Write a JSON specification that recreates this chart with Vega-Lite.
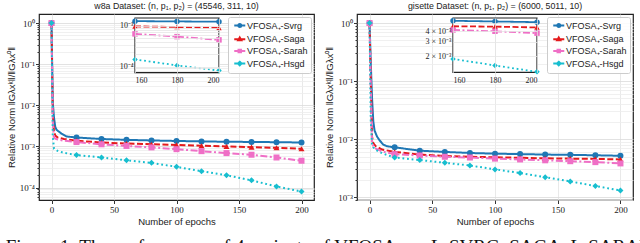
{
  "$schema": "https://vega.github.io/schema/vega-lite/v6.json",
  "padding": {"left": 5, "top": 1, "right": 0, "bottom": 0},
  "spacing": 9,
  "title": {"text": "Figure 1: The performance of 4 variants of VFOSA₊ — L-SVRG, SAGA, L-SARAH and", "orient": "bottom", "anchor": "start", "font": "Liberation Serif", "fontSize": 19, "fontWeight": "normal", "color": "#111", "offset": 11.5, "baseline": "top", "frame": "bounds"},
  "datasets": {
    "runs": [
      {"ds":"w8a","series":"Svrg","epoch":0,"value":1},{"ds":"w8a","series":"Svrg","epoch":1,"value":0.012},{"ds":"w8a","series":"Svrg","epoch":2,"value":0.005},{"ds":"w8a","series":"Svrg","epoch":3,"value":0.003},{"ds":"w8a","series":"Svrg","epoch":4,"value":0.00255},{"ds":"w8a","series":"Svrg","epoch":8,"value":0.00205},{"ds":"w8a","series":"Svrg","epoch":12,"value":0.00175},{"ds":"w8a","series":"Svrg","epoch":20,"value":0.00165},{"ds":"w8a","series":"Svrg","epoch":40,"value":0.00152},{"ds":"w8a","series":"Svrg","epoch":60,"value":0.00145},{"ds":"w8a","series":"Svrg","epoch":80,"value":0.0014},{"ds":"w8a","series":"Svrg","epoch":100,"value":0.00136},{"ds":"w8a","series":"Svrg","epoch":120,"value":0.00133},{"ds":"w8a","series":"Svrg","epoch":140,"value":0.0013},{"ds":"w8a","series":"Svrg","epoch":160,"value":0.00129},{"ds":"w8a","series":"Svrg","epoch":180,"value":0.00127},{"ds":"w8a","series":"Svrg","epoch":200,"value":0.00125},
      {"ds":"w8a","series":"Saga","epoch":0,"value":1},{"ds":"w8a","series":"Saga","epoch":1,"value":0.006},{"ds":"w8a","series":"Saga","epoch":2,"value":0.0023},{"ds":"w8a","series":"Saga","epoch":3,"value":0.00185},{"ds":"w8a","series":"Saga","epoch":5,"value":0.00165},{"ds":"w8a","series":"Saga","epoch":10,"value":0.00152},{"ds":"w8a","series":"Saga","epoch":20,"value":0.00138},{"ds":"w8a","series":"Saga","epoch":40,"value":0.00125},{"ds":"w8a","series":"Saga","epoch":60,"value":0.00118},{"ds":"w8a","series":"Saga","epoch":80,"value":0.00113},{"ds":"w8a","series":"Saga","epoch":100,"value":0.00109},{"ds":"w8a","series":"Saga","epoch":120,"value":0.00104},{"ds":"w8a","series":"Saga","epoch":140,"value":0.001},{"ds":"w8a","series":"Saga","epoch":160,"value":0.00096},{"ds":"w8a","series":"Saga","epoch":180,"value":0.00093},{"ds":"w8a","series":"Saga","epoch":200,"value":0.00088},
      {"ds":"w8a","series":"Sarah","epoch":0,"value":1},{"ds":"w8a","series":"Sarah","epoch":1,"value":0.004},{"ds":"w8a","series":"Sarah","epoch":2,"value":0.0017},{"ds":"w8a","series":"Sarah","epoch":3,"value":0.00155},{"ds":"w8a","series":"Sarah","epoch":5,"value":0.00148},{"ds":"w8a","series":"Sarah","epoch":10,"value":0.00138},{"ds":"w8a","series":"Sarah","epoch":20,"value":0.00128},{"ds":"w8a","series":"Sarah","epoch":40,"value":0.00113},{"ds":"w8a","series":"Sarah","epoch":60,"value":0.00103},{"ds":"w8a","series":"Sarah","epoch":80,"value":0.00095},{"ds":"w8a","series":"Sarah","epoch":100,"value":0.00086},{"ds":"w8a","series":"Sarah","epoch":120,"value":0.00077},{"ds":"w8a","series":"Sarah","epoch":140,"value":0.00069},{"ds":"w8a","series":"Sarah","epoch":160,"value":0.00063},{"ds":"w8a","series":"Sarah","epoch":180,"value":0.00054},{"ds":"w8a","series":"Sarah","epoch":200,"value":0.00045},
      {"ds":"w8a","series":"Hsgd","epoch":0,"value":1},{"ds":"w8a","series":"Hsgd","epoch":1,"value":0.0018},{"ds":"w8a","series":"Hsgd","epoch":2,"value":0.00088},{"ds":"w8a","series":"Hsgd","epoch":5,"value":0.00078},{"ds":"w8a","series":"Hsgd","epoch":10,"value":0.0007},{"ds":"w8a","series":"Hsgd","epoch":20,"value":0.00062},{"ds":"w8a","series":"Hsgd","epoch":40,"value":0.00054},{"ds":"w8a","series":"Hsgd","epoch":60,"value":0.00046},{"ds":"w8a","series":"Hsgd","epoch":80,"value":0.0004},{"ds":"w8a","series":"Hsgd","epoch":100,"value":0.00032},{"ds":"w8a","series":"Hsgd","epoch":120,"value":0.00025},{"ds":"w8a","series":"Hsgd","epoch":140,"value":0.0002},{"ds":"w8a","series":"Hsgd","epoch":160,"value":0.00015},{"ds":"w8a","series":"Hsgd","epoch":180,"value":0.000107},{"ds":"w8a","series":"Hsgd","epoch":200,"value":0.00008},
      {"ds":"gisette","series":"Svrg","epoch":0,"value":1},{"ds":"gisette","series":"Svrg","epoch":1,"value":0.2},{"ds":"gisette","series":"Svrg","epoch":2,"value":0.05},{"ds":"gisette","series":"Svrg","epoch":3,"value":0.02},{"ds":"gisette","series":"Svrg","epoch":4,"value":0.014},{"ds":"gisette","series":"Svrg","epoch":6,"value":0.011},{"ds":"gisette","series":"Svrg","epoch":8,"value":0.0095},{"ds":"gisette","series":"Svrg","epoch":11,"value":0.008},{"ds":"gisette","series":"Svrg","epoch":14,"value":0.0075},{"ds":"gisette","series":"Svrg","epoch":20,"value":0.0072},{"ds":"gisette","series":"Svrg","epoch":40,"value":0.0063},{"ds":"gisette","series":"Svrg","epoch":60,"value":0.006},{"ds":"gisette","series":"Svrg","epoch":80,"value":0.00575},{"ds":"gisette","series":"Svrg","epoch":100,"value":0.0056},{"ds":"gisette","series":"Svrg","epoch":120,"value":0.0055},{"ds":"gisette","series":"Svrg","epoch":140,"value":0.0054},{"ds":"gisette","series":"Svrg","epoch":160,"value":0.00535},{"ds":"gisette","series":"Svrg","epoch":180,"value":0.00525},{"ds":"gisette","series":"Svrg","epoch":200,"value":0.00515},
      {"ds":"gisette","series":"Saga","epoch":0,"value":1},{"ds":"gisette","series":"Saga","epoch":1,"value":0.1},{"ds":"gisette","series":"Saga","epoch":2,"value":0.011},{"ds":"gisette","series":"Saga","epoch":3,"value":0.0085},{"ds":"gisette","series":"Saga","epoch":5,"value":0.0075},{"ds":"gisette","series":"Saga","epoch":10,"value":0.0066},{"ds":"gisette","series":"Saga","epoch":20,"value":0.006},{"ds":"gisette","series":"Saga","epoch":40,"value":0.0054},{"ds":"gisette","series":"Saga","epoch":60,"value":0.0051},{"ds":"gisette","series":"Saga","epoch":80,"value":0.00495},{"ds":"gisette","series":"Saga","epoch":100,"value":0.00485},{"ds":"gisette","series":"Saga","epoch":120,"value":0.00475},{"ds":"gisette","series":"Saga","epoch":140,"value":0.00465},{"ds":"gisette","series":"Saga","epoch":160,"value":0.0046},{"ds":"gisette","series":"Saga","epoch":180,"value":0.00455},{"ds":"gisette","series":"Saga","epoch":200,"value":0.00445},
      {"ds":"gisette","series":"Sarah","epoch":0,"value":1},{"ds":"gisette","series":"Sarah","epoch":1,"value":0.08},{"ds":"gisette","series":"Sarah","epoch":2,"value":0.009},{"ds":"gisette","series":"Sarah","epoch":3,"value":0.0075},{"ds":"gisette","series":"Sarah","epoch":5,"value":0.0068},{"ds":"gisette","series":"Sarah","epoch":10,"value":0.0061},{"ds":"gisette","series":"Sarah","epoch":20,"value":0.0055},{"ds":"gisette","series":"Sarah","epoch":40,"value":0.0052},{"ds":"gisette","series":"Sarah","epoch":60,"value":0.00495},{"ds":"gisette","series":"Sarah","epoch":80,"value":0.0048},{"ds":"gisette","series":"Sarah","epoch":100,"value":0.0046},{"ds":"gisette","series":"Sarah","epoch":120,"value":0.00445},{"ds":"gisette","series":"Sarah","epoch":140,"value":0.0043},{"ds":"gisette","series":"Sarah","epoch":160,"value":0.00415},{"ds":"gisette","series":"Sarah","epoch":180,"value":0.004},{"ds":"gisette","series":"Sarah","epoch":200,"value":0.0038},
      {"ds":"gisette","series":"Hsgd","epoch":0,"value":1},{"ds":"gisette","series":"Hsgd","epoch":1,"value":0.02},{"ds":"gisette","series":"Hsgd","epoch":2,"value":0.0082},{"ds":"gisette","series":"Hsgd","epoch":3,"value":0.0072},{"ds":"gisette","series":"Hsgd","epoch":5,"value":0.0065},{"ds":"gisette","series":"Hsgd","epoch":10,"value":0.0057},{"ds":"gisette","series":"Hsgd","epoch":20,"value":0.0048},{"ds":"gisette","series":"Hsgd","epoch":40,"value":0.00435},{"ds":"gisette","series":"Hsgd","epoch":60,"value":0.0039},{"ds":"gisette","series":"Hsgd","epoch":80,"value":0.0035},{"ds":"gisette","series":"Hsgd","epoch":100,"value":0.003},{"ds":"gisette","series":"Hsgd","epoch":120,"value":0.0026},{"ds":"gisette","series":"Hsgd","epoch":140,"value":0.0022},{"ds":"gisette","series":"Hsgd","epoch":160,"value":0.00186},{"ds":"gisette","series":"Hsgd","epoch":180,"value":0.00155},{"ds":"gisette","series":"Hsgd","epoch":200,"value":0.0013}
    ]
  },
  "hconcat": [
    {
      "width": 275, "height": 186,
      "title": {"text": "w8a Dataset: (n, p₁, p₂) = (45546, 311, 10)", "frame": "group"},
      "data": {"name": "runs"},
      "transform": [{"filter": "datum.ds == 'w8a'"}],
      "layer": [
        {"layer": [
          {"mark": {"type": "line", "strokeWidth": 2, "clip": true},
           "encoding": {
             "x": {"field": "epoch", "type": "quantitative", "scale": {"domain": [-10, 210], "nice": false, "zero": false}, "axis": {"orient": "bottom", "values": [0,25,50,75,100,125,150,175,200], "title": "Number of epochs", "tickSize": 3.5, "labelPadding": 2, "titlePadding": 2}},
             "y": {"field": "value", "type": "quantitative", "scale": {"type": "log", "domain": [0.00005, 1.66], "nice": false}, "axis": {"orient": "left", "values": [0.00006,0.00007,0.00008,0.00009,0.0001,0.0002,0.0003,0.0004,0.0005,0.0006,0.0007,0.0008,0.0009,0.001,0.002,0.003,0.004,0.005,0.006,0.007,0.008,0.009,0.01,0.02,0.03,0.04,0.05,0.06,0.07,0.08,0.09,0.1,0.2,0.3,0.4,0.5,0.6,0.7,0.8,0.9,1], "labelExpr": "datum.value == 1 ? '10⁰' : datum.value == 0.1 ? '10⁻¹' : datum.value == 0.01 ? '10⁻²' : datum.value == 0.001 ? '10⁻³' : datum.value == 0.0001 ? '10⁻⁴' : ''", "title": "Relative Norm ‖Gλxᵏ‖/‖Gλx⁰‖", "titlePadding": 3, "labelPadding": 1, "labelOverlap": false, "tickSize": {"condition": {"test": "abs(log(datum.value)/LN10 - round(log(datum.value)/LN10)) < 0.000001", "value": 3.5}, "value": 2}, "gridColor": {"condition": {"test": "abs(log(datum.value)/LN10 - round(log(datum.value)/LN10)) < 0.000001", "value": "#dadada"}, "value": "#ececec"}}},
             "color": {"field": "series", "type": "nominal", "scale": {"domain": ["Svrg","Saga","Sarah","Hsgd"], "range": ["#1f77b4","#e41a1c","#ef6fc6","#17becf"]}, "legend": null},
             "strokeDash": {"field": "series", "type": "nominal", "scale": {"domain": ["Svrg","Saga","Sarah","Hsgd"], "range": [[1,0],[6,2.5],[7,2.5,2,2.5],[1.8,2.8]]}, "legend": null}
           }},
          {"transform": [{"filter": "datum.epoch % 20 == 0"}],
           "mark": {"type": "point", "filled": true, "size": 36, "opacity": 1, "clip": true},
           "encoding": {
             "x": {"field": "epoch", "type": "quantitative"},
             "y": {"field": "value", "type": "quantitative"},
             "color": {"field": "series", "type": "nominal", "scale": {"domain": ["Svrg","Saga","Sarah","Hsgd"], "range": ["#1f77b4","#e41a1c","#ef6fc6","#17becf"]}, "legend": null},
             "shape": {"field": "series", "type": "nominal", "scale": {"domain": ["Svrg","Saga","Sarah","Hsgd"], "range": ["circle","triangle-up","square","diamond"]}, "legend": null}
           }}
        ]},
        {"layer": [
          {"transform": [{"filter": "datum.epoch == 0 && datum.series == 'Svrg'"}],
           "mark": {"type": "rect", "fill": "white", "stroke": "#222", "strokeWidth": 1.2},
           "encoding": {
             "x": {"datum": 160, "type": "quantitative", "scale": {"domain": [160, 200], "range": [96, 180], "nice": false, "zero": false}, "axis": {"orient": "top", "offset": -58.7, "values": [160,180,200], "title": null, "grid": true, "gridColor": "#dedede", "ticks": false, "tickSize": 0, "domain": false, "labelPadding": -4, "labelBaseline": "top", "labelFontSize": 8, "zindex": 1}},
             "x2": {"datum": 200},
             "y": {"datum": 0.000071, "type": "quantitative", "scale": {"type": "log", "domain": [0.000071, 0.00154], "range": [58.7, 4], "nice": false}, "axis": {"orient": "left", "offset": -96, "values": [0.00008,0.00009,0.0001,0.0002,0.0003,0.0004,0.0005,0.0006,0.0007,0.0008,0.0009,0.001], "labelExpr": "datum.value == 0.001 ? '10⁻³' : datum.value == 0.0001 ? '10⁻⁴' : ''", "labelOverlap": false, "title": null, "grid": true, "gridColor": "#e6e6e6", "ticks": false, "tickSize": 0, "domain": false, "labelPadding": 2, "labelFontSize": 8, "zindex": 1}},
             "y2": {"datum": 0.00154}
           }},
          {"transform": [{"filter": "datum.epoch >= 160"}],
           "mark": {"type": "line", "strokeWidth": 1.8},
           "encoding": {
             "x": {"field": "epoch", "type": "quantitative"},
             "y": {"field": "value", "type": "quantitative"},
             "color": {"field": "series", "type": "nominal", "scale": {"domain": ["Svrg","Saga","Sarah","Hsgd"], "range": ["#1f77b4","#e41a1c","#ef6fc6","#17becf"]}, "legend": null},
             "strokeDash": {"field": "series", "type": "nominal", "scale": {"domain": ["Svrg","Saga","Sarah","Hsgd"], "range": [[1,0],[6,2.5],[7,2.5,2,2.5],[1.8,2.8]]}, "legend": null}
           }},
          {"transform": [{"filter": "datum.epoch >= 160 && datum.epoch % 20 == 0"}],
           "mark": {"type": "point", "filled": true, "size": 30, "opacity": 1},
           "encoding": {
             "x": {"field": "epoch", "type": "quantitative"},
             "y": {"field": "value", "type": "quantitative"},
             "color": {"field": "series", "type": "nominal", "scale": {"domain": ["Svrg","Saga","Sarah","Hsgd"], "range": ["#1f77b4","#e41a1c","#ef6fc6","#17becf"]}, "legend": null},
             "shape": {"field": "series", "type": "nominal", "scale": {"domain": ["Svrg","Saga","Sarah","Hsgd"], "range": ["circle","triangle-up","square","diamond"]}, "legend": null}
           }}
        ]},
        {"transform": [{"filter": "false"}],
         "mark": {"type": "point", "filled": true, "opacity": 1, "strokeWidth": 2,
           "fill": {"expr": "datum.value == 'Svrg' ? '#1f77b4' : datum.value == 'Saga' ? '#e41a1c' : datum.value == 'Sarah' ? '#ef6fc6' : '#17becf'"},
           "stroke": {"expr": "datum.value == 'Svrg' ? '#1f77b4' : datum.value == 'Saga' ? '#e41a1c' : datum.value == 'Sarah' ? '#ef6fc6' : '#17becf'"},
           "strokeDash": {"expr": "datum.value == 'Saga' ? [5,2] : datum.value == 'Sarah' ? [6,2,1.5,2] : datum.value == 'Hsgd' ? [1.6,2.4] : [1,0]"}},
         "encoding": {
           "shape": {"field": "series", "type": "nominal", "title": null, "scale": {"domain": ["Svrg","Saga","Sarah","Hsgd"], "range": ["M-0.5,0H1.95M0.385,0A0.335,0.335 0 1,0 1.055,0A0.335,0.335 0 1,0 0.385,0Z", "M-0.5,0H1.95M0.72,-0.375L1.07,0.25L0.37,0.25Z", "M-0.5,0H1.95M0.45,-0.275H0.99V0.275H0.45Z", "M-0.5,0H1.95M0.72,-0.4L1.12,0L0.72,0.4L0.32,0Z"]},
             "legend": {"labelExpr": "'VFOSA₊-' + datum.label"}}
         }}
      ],
      "resolve": {"scale": {"x": "independent", "y": "independent", "shape": "independent", "strokeDash": "independent"}, "axis": {"x": "independent", "y": "independent"}}
    },
    {
      "width": 276, "height": 186,
      "title": {"text": "gisette Dataset: (n, p₁, p₂) = (6000, 5011, 10)", "frame": "group"},
      "data": {"name": "runs"},
      "transform": [{"filter": "datum.ds == 'gisette'"}],
      "layer": [
        {"layer": [
          {"mark": {"type": "line", "strokeWidth": 2, "clip": true},
           "encoding": {
             "x": {"field": "epoch", "type": "quantitative", "scale": {"domain": [-10, 210], "nice": false, "zero": false}, "axis": {"orient": "bottom", "values": [0,25,50,75,100,125,150,175,200], "title": "Number of epochs", "tickSize": 3.5, "labelPadding": 2, "titlePadding": 2}},
             "y": {"field": "value", "type": "quantitative", "scale": {"type": "log", "domain": [0.00089, 1.43], "nice": false}, "axis": {"orient": "left", "values": [0.0009,0.001,0.002,0.003,0.004,0.005,0.006,0.007,0.008,0.009,0.01,0.02,0.03,0.04,0.05,0.06,0.07,0.08,0.09,0.1,0.2,0.3,0.4,0.5,0.6,0.7,0.8,0.9,1], "labelExpr": "datum.value == 1 ? '10⁰' : datum.value == 0.1 ? '10⁻¹' : datum.value == 0.01 ? '10⁻²' : datum.value == 0.001 ? '10⁻³' : ''", "title": "Relative Norm ‖Gλxᵏ‖/‖Gλx⁰‖", "titlePadding": 3, "labelPadding": 1, "labelOverlap": false, "tickSize": {"condition": {"test": "abs(log(datum.value)/LN10 - round(log(datum.value)/LN10)) < 0.000001", "value": 3.5}, "value": 2}, "gridColor": {"condition": {"test": "abs(log(datum.value)/LN10 - round(log(datum.value)/LN10)) < 0.000001", "value": "#dadada"}, "value": "#ececec"}}},
             "color": {"field": "series", "type": "nominal", "scale": {"domain": ["Svrg","Saga","Sarah","Hsgd"], "range": ["#1f77b4","#e41a1c","#ef6fc6","#17becf"]}, "legend": null},
             "strokeDash": {"field": "series", "type": "nominal", "scale": {"domain": ["Svrg","Saga","Sarah","Hsgd"], "range": [[1,0],[6,2.5],[7,2.5,2,2.5],[1.8,2.8]]}, "legend": null}
           }},
          {"transform": [{"filter": "datum.epoch % 20 == 0"}],
           "mark": {"type": "point", "filled": true, "size": 36, "opacity": 1, "clip": true},
           "encoding": {
             "x": {"field": "epoch", "type": "quantitative"},
             "y": {"field": "value", "type": "quantitative"},
             "color": {"field": "series", "type": "nominal", "scale": {"domain": ["Svrg","Saga","Sarah","Hsgd"], "range": ["#1f77b4","#e41a1c","#ef6fc6","#17becf"]}, "legend": null},
             "shape": {"field": "series", "type": "nominal", "scale": {"domain": ["Svrg","Saga","Sarah","Hsgd"], "range": ["circle","triangle-up","square","diamond"]}, "legend": null}
           }}
        ]},
        {"layer": [
          {"transform": [{"filter": "datum.epoch == 0 && datum.series == 'Svrg'"}],
           "mark": {"type": "rect", "fill": "white", "stroke": "#222", "strokeWidth": 1.2},
           "encoding": {
             "x": {"datum": 160, "type": "quantitative", "scale": {"domain": [160, 200], "range": [96, 180], "nice": false, "zero": false}, "axis": {"orient": "top", "offset": -58.4, "values": [160,180,200], "title": null, "grid": true, "gridColor": "#dedede", "ticks": false, "tickSize": 0, "domain": false, "labelPadding": -4, "labelBaseline": "top", "labelFontSize": 8, "zindex": 1}},
             "x2": {"datum": 200},
             "y": {"datum": 0.00128, "type": "quantitative", "scale": {"type": "log", "domain": [0.00128, 0.00578], "range": [58.4, 4], "nice": false}, "axis": {"orient": "left", "offset": -96, "values": [0.002,0.003,0.004,0.005], "labelExpr": "datum.value == 0.002 ? '2 × 10⁻³' : datum.value == 0.003 ? '3 × 10⁻³' : datum.value == 0.004 ? '4 × 10⁻³' : ''", "labelOverlap": false, "title": null, "grid": true, "gridColor": "#e6e6e6", "ticks": false, "tickSize": 0, "domain": false, "labelPadding": 2, "labelFontSize": 8, "zindex": 1}},
             "y2": {"datum": 0.00578}
           }},
          {"transform": [{"filter": "datum.epoch >= 160"}],
           "mark": {"type": "line", "strokeWidth": 1.8},
           "encoding": {
             "x": {"field": "epoch", "type": "quantitative"},
             "y": {"field": "value", "type": "quantitative"},
             "color": {"field": "series", "type": "nominal", "scale": {"domain": ["Svrg","Saga","Sarah","Hsgd"], "range": ["#1f77b4","#e41a1c","#ef6fc6","#17becf"]}, "legend": null},
             "strokeDash": {"field": "series", "type": "nominal", "scale": {"domain": ["Svrg","Saga","Sarah","Hsgd"], "range": [[1,0],[6,2.5],[7,2.5,2,2.5],[1.8,2.8]]}, "legend": null}
           }},
          {"transform": [{"filter": "datum.epoch >= 160 && datum.epoch % 20 == 0"}],
           "mark": {"type": "point", "filled": true, "size": 30, "opacity": 1},
           "encoding": {
             "x": {"field": "epoch", "type": "quantitative"},
             "y": {"field": "value", "type": "quantitative"},
             "color": {"field": "series", "type": "nominal", "scale": {"domain": ["Svrg","Saga","Sarah","Hsgd"], "range": ["#1f77b4","#e41a1c","#ef6fc6","#17becf"]}, "legend": null},
             "shape": {"field": "series", "type": "nominal", "scale": {"domain": ["Svrg","Saga","Sarah","Hsgd"], "range": ["circle","triangle-up","square","diamond"]}, "legend": null}
           }}
        ]},
        {"transform": [{"filter": "false"}],
         "mark": {"type": "point", "filled": true, "opacity": 1, "strokeWidth": 2,
           "fill": {"expr": "datum.value == 'Svrg' ? '#1f77b4' : datum.value == 'Saga' ? '#e41a1c' : datum.value == 'Sarah' ? '#ef6fc6' : '#17becf'"},
           "stroke": {"expr": "datum.value == 'Svrg' ? '#1f77b4' : datum.value == 'Saga' ? '#e41a1c' : datum.value == 'Sarah' ? '#ef6fc6' : '#17becf'"},
           "strokeDash": {"expr": "datum.value == 'Saga' ? [5,2] : datum.value == 'Sarah' ? [6,2,1.5,2] : datum.value == 'Hsgd' ? [1.6,2.4] : [1,0]"}},
         "encoding": {
           "shape": {"field": "series", "type": "nominal", "title": null, "scale": {"domain": ["Svrg","Saga","Sarah","Hsgd"], "range": ["M-0.5,0H1.95M0.385,0A0.335,0.335 0 1,0 1.055,0A0.335,0.335 0 1,0 0.385,0Z", "M-0.5,0H1.95M0.72,-0.375L1.07,0.25L0.37,0.25Z", "M-0.5,0H1.95M0.45,-0.275H0.99V0.275H0.45Z", "M-0.5,0H1.95M0.72,-0.4L1.12,0L0.72,0.4L0.32,0Z"]},
             "legend": {"labelExpr": "'VFOSA₊-' + datum.label"}}
         }}
      ],
      "resolve": {"scale": {"x": "independent", "y": "independent", "shape": "independent", "strokeDash": "independent"}, "axis": {"x": "independent", "y": "independent"}}
    }
  ],
  "resolve": {"scale": {"color": "independent", "shape": "independent", "strokeDash": "independent"}, "legend": {"shape": "independent"}},
  "config": {
    "background": "white",
    "view": {"stroke": "#222", "strokeWidth": 1.2},
    "axis": {"labelFont": "Liberation Serif", "labelFontSize": 9, "titleFont": "Liberation Sans", "titleFontSize": 9.5, "titleFontWeight": "normal", "labelColor": "#222", "titleColor": "#222", "tickColor": "#333", "domain": false, "grid": true, "gridColor": "#e3e3e3", "gridWidth": 0.8},
    "title": {"font": "Liberation Sans", "fontSize": 8.8, "fontWeight": "normal", "color": "#222", "offset": 3},
    "legend": {"orient": "top-right", "offset": 3, "padding": 3, "symbolSize": 81, "symbolStrokeWidth": 2, "symbolOpacity": 1, "labelFont": "Liberation Sans", "labelFontSize": 9, "labelColor": "#222", "labelOffset": 5, "rowPadding": 0.7, "labelLimit": 200, "strokeColor": "#cccccc", "fillColor": "rgba(255,255,255,0.85)", "cornerRadius": 2}
  }
}
